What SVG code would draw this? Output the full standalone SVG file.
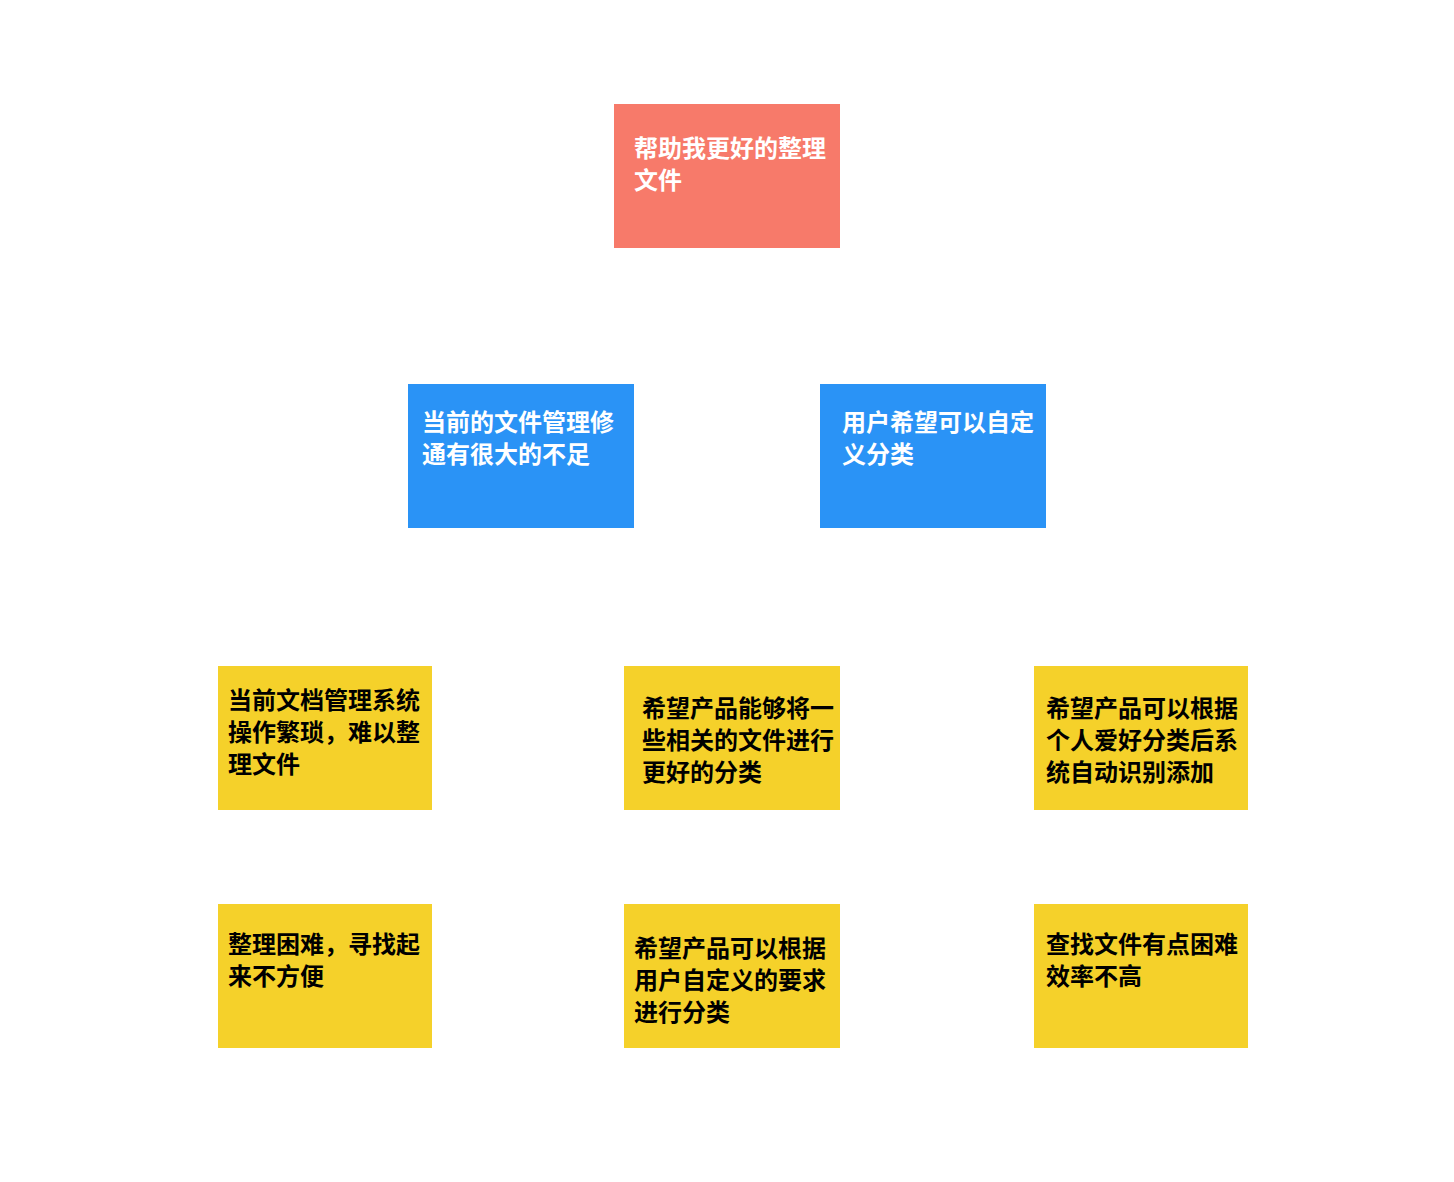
<svg xmlns="http://www.w3.org/2000/svg" width="1454" height="1182" viewBox="0 0 1454 1182">
<style>
text{font-family:"Noto Sans CJK SC","Noto Sans",sans-serif;font-size:24px;font-weight:bold}
.w{fill:#ffffff}.k{fill:#000000}
.r{fill:#F77A6A}.b{fill:#2A93F6}.y{fill:#F5D12A}
</style>
<rect width="1454" height="1182" fill="#ffffff"/>
<g id="connectors"/>
<g id="root"><rect class="r" x="614" y="104" width="226" height="144"/>
<text class="w" x="634" y="157">帮助我更好的整理</text><text class="w" x="634" y="189">文件</text></g>
<g id="b1"><rect class="b" x="408" y="384" width="226" height="144"/>
<text class="w" x="422" y="431">当前的文件管理修</text><text class="w" x="422" y="463">通有很大的不足</text></g>
<g id="b2"><rect class="b" x="820" y="384" width="226" height="144"/>
<text class="w" x="842" y="431">用户希望可以自定</text><text class="w" x="842" y="463">义分类</text></g>
<g id="y1"><rect class="y" x="218" y="666" width="214" height="144"/>
<text class="k" x="228" y="709">当前文档管理系统</text><text class="k" x="228" y="741">操作繁琐，难以整</text><text class="k" x="228" y="773">理文件</text></g>
<g id="y2"><rect class="y" x="624" y="666" width="216" height="144"/>
<text class="k" x="642" y="717">希望产品能够将一</text><text class="k" x="642" y="749">些相关的文件进行</text><text class="k" x="642" y="781">更好的分类</text></g>
<g id="y3"><rect class="y" x="1034" y="666" width="214" height="144"/>
<text class="k" x="1046" y="717">希望产品可以根据</text><text class="k" x="1046" y="749">个人爱好分类后系</text><text class="k" x="1046" y="781">统自动识别添加</text></g>
<g id="y4"><rect class="y" x="218" y="904" width="214" height="144"/>
<text class="k" x="228" y="953">整理困难，寻找起</text><text class="k" x="228" y="985">来不方便</text></g>
<g id="y5"><rect class="y" x="624" y="904" width="216" height="144"/>
<text class="k" x="634" y="957">希望产品可以根据</text><text class="k" x="634" y="989">用户自定义的要求</text><text class="k" x="634" y="1021">进行分类</text></g>
<g id="y6"><rect class="y" x="1034" y="904" width="214" height="144"/>
<text class="k" x="1046" y="953">查找文件有点困难</text><text class="k" x="1046" y="985">效率不高</text></g>
</svg>
